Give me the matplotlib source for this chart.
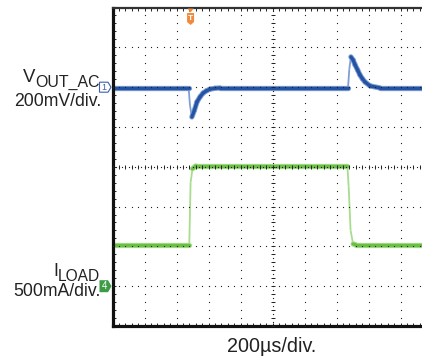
import numpy as np
import matplotlib
matplotlib.use('Agg')
import matplotlib.pyplot as plt
from matplotlib.collections import LineCollection
from matplotlib.patches import Polygon

plt.rcParams['font.family'] = ['Liberation Sans', 'DejaVu Sans']

W, H = 422, 358

# V_OUT_AC trace: time and level in screen divisions (200us/div, 200mV/div)
vout_t = [0.0, 2.38, 2.42, 2.48, 2.56, 2.64, 2.74, 2.83, 2.94, 3.05, 3.20, 3.36,
          7.36, 7.40, 7.45, 7.52, 7.58, 7.66, 7.73, 7.81, 7.89, 8.05, 8.36, 10.0]
vout_v = [5.98, 5.98, 5.55, 5.25, 5.42, 5.63, 5.76, 5.85, 5.91, 5.95, 5.97, 5.98,
          5.98, 6.45, 6.76, 6.68, 6.56, 6.43, 6.31, 6.21, 6.13, 6.03, 5.98, 5.98]

# I_LOAD trace: time and level in screen divisions (500mA/div)
iload_t = [0.0, 2.40, 2.44, 2.50, 2.60, 7.34, 7.38, 7.44, 7.52, 7.60, 10.0]
iload_v = [2.04, 2.04, 3.60, 3.95, 4.02, 4.02, 3.50, 2.40, 2.06, 2.04, 2.04]

vout_marker = 6.0
iload_marker = 1.0
trigger_t = 2.44


def px(x, y):
    # pixel position -> figure fraction
    return x / W, 1 - y / H


def draw_trace(ax, t, v, dark, light):
    pts = np.column_stack([t, v])
    segs = np.stack([pts[:-1], pts[1:]], axis=1)
    slope = np.abs(np.diff(v) / np.diff(t))
    fast = slope > 4
    thin = LineCollection(segs[fast], colors=light, linewidths=1.3, zorder=2)
    ax.add_collection(thin)
    for lw, col in [(3.8, light), (2.4, dark)]:
        lc = LineCollection(segs[~fast], colors=col, linewidths=lw, zorder=2)
        lc.set_capstyle('round')
        lc.set_joinstyle('round')
        ax.add_collection(lc)


fig = plt.figure(figsize=(W / 100, H / 100), dpi=100)
ax = fig.add_axes([112.5 / W, 32 / H, 320 / W, 318.5 / H])
ax.set_xlim(0, 10)
ax.set_ylim(0, 8)

# graticule
xs = np.arange(0, 10.01, 0.2)
ys = np.arange(0, 8.01, 0.2)
for gy in range(1, 8):
    if gy == 4:
        continue
    ax.plot(xs, np.full_like(xs, gy), ls='none', marker='s', ms=0.8, mew=0, color='#222', zorder=3)
for gx in range(1, 10):
    if gx == 5:
        continue
    ax.plot(np.full_like(ys, gx), ys, ls='none', marker='s', ms=0.8, mew=0, color='#222', zorder=3)

xs2 = np.arange(0, 10.01, 0.1)
ys2 = np.arange(0, 8.01, 0.1)
ax.plot(xs2, np.full_like(xs2, 4), ls='none', marker='s', ms=0.8, mew=0, color='#222', zorder=3)
ax.plot(xs, np.full_like(xs, 4), ls='none', marker='|', ms=3.4, mew=0.7, color='#222', zorder=3)
ax.plot(np.full_like(ys2, 5), ys2, ls='none', marker='s', ms=0.8, mew=0, color='#222', zorder=3)
ax.plot(np.full_like(ys, 5), ys, ls='none', marker='_', ms=3.4, mew=0.7, color='#222', zorder=3)

draw_trace(ax, vout_t, vout_v, '#2453a3', '#7f9fd4')
draw_trace(ax, iload_t, iload_v, '#6cbf45', '#a9dc8f')

ax.set_xticks(np.arange(0, 10.01, 1))
ax.set_xticks(xs, minor=True)
ax.set_yticks(np.arange(0, 8.01, 1))
ax.set_yticks(ys, minor=True)
ax.tick_params(which='both', direction='in', length=2.5, width=0.7, color='#222',
               top=True, right=False, labelbottom=False, labelleft=False)

for side in ['left', 'bottom']:
    ax.spines[side].set_linewidth(2.3)
    ax.spines[side].set_color('#111')
ax.spines['top'].set_linewidth(1.6)
ax.spines['top'].set_color('#333')
ax.spines['right'].set_visible(False)

# trigger marker
tx = 112.5 + trigger_t * 32
fig.add_artist(Polygon([px(tx - 3.5, 13), px(tx + 3.5, 13), px(tx + 3.5, 22),
                        px(tx, 25), px(tx - 3.5, 22)], closed=True,
                       transform=fig.transFigure, facecolor='#f08a3c', edgecolor='none'))
fig.add_artist(Polygon([px(tx - 3, 8.5), px(tx + 3, 8.5), px(tx, 12.5)], closed=True,
                       transform=fig.transFigure, facecolor='#f08a3c', edgecolor='none'))
fig.text(*px(tx, 18.5), 'T', color='white', fontsize=6, fontweight='bold', ha='center', va='center')

# channel markers
my = 326 - vout_marker * 39.8
fig.add_artist(Polygon([px(99.5, my - 5), px(108, my - 5), px(111, my), px(108, my + 5),
                        px(99.5, my + 5)], closed=True, transform=fig.transFigure,
                       facecolor='white', edgecolor='#3d5fb0', linewidth=0.8))
fig.text(*px(104, my), '1', color='#3d5fb0', fontsize=6.5, ha='center', va='center')

gy_ = 326 - iload_marker * 39.8
fig.add_artist(Polygon([px(99.5, gy_ - 6), px(108, gy_ - 6), px(111.5, gy_), px(108, gy_ + 6),
                        px(99.5, gy_ + 6)], closed=True, transform=fig.transFigure,
                       facecolor='#3d9b46', edgecolor='none'))
fig.text(*px(104.5, gy_), '4', color='white', fontsize=7, ha='center', va='center')

# labels
fig.text(*px(35.5, 81.7), 'V', fontsize=13.4, ha='right', va='baseline', color='#222')
fig.text(*px(99.5, 87.3), 'OUT_AC', fontsize=11.4, ha='right', va='baseline', color='#222')
fig.text(*px(101, 106), '200mV/div.', fontsize=12.7, ha='right', va='baseline', color='#222')

fig.text(*px(58.5, 275.7), 'I', fontsize=12.7, ha='right', va='baseline', color='#222')
fig.text(*px(99.5, 280.7), 'LOAD', fontsize=11.2, ha='right', va='baseline', color='#222')
fig.text(*px(101, 295.7), '500mA/div.', fontsize=12.7, ha='right', va='baseline', color='#222')

fig.text(*px(226.5, 352), '200µs/div.', fontsize=14.2, ha='left', va='baseline', color='#222')

fig.savefig('out.png', dpi=100)
